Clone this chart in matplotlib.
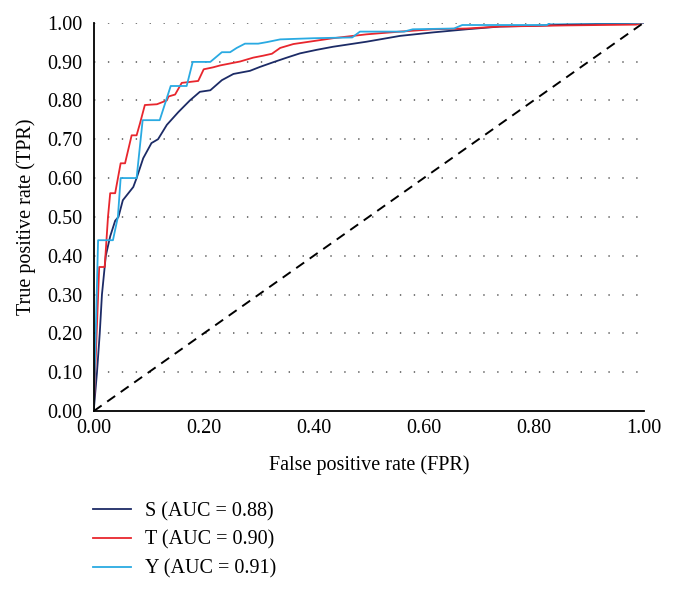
import matplotlib.pyplot as plt
from matplotlib.transforms import Bbox

# ROC points
s_fpr = [0.0, 0.006, 0.011, 0.015, 0.022, 0.030, 0.039, 0.045, 0.053, 0.072, 0.078, 0.090,
         0.105, 0.117, 0.133, 0.154, 0.175, 0.193, 0.212, 0.233, 0.254, 0.284, 0.302, 0.326,
         0.351, 0.375, 0.405, 0.435, 0.496, 0.557, 0.617, 0.678, 0.738, 0.799, 0.860, 0.920, 1.0]
s_tpr = [0.0, 0.10, 0.20, 0.30, 0.40, 0.45, 0.49, 0.50, 0.543, 0.577, 0.60, 0.651,
         0.69, 0.70, 0.737, 0.77, 0.80, 0.822, 0.826, 0.852, 0.868, 0.876, 0.886, 0.898,
         0.91, 0.921, 0.93, 0.938, 0.951, 0.966, 0.975, 0.983, 0.99, 0.992, 0.995, 0.997, 1.0]

t_fpr = [0.0, 0.010, 0.020, 0.026, 0.030, 0.039, 0.049, 0.057, 0.069, 0.078, 0.084, 0.093,
         0.115, 0.133, 0.136, 0.148, 0.160, 0.190, 0.200, 0.217, 0.230, 0.248, 0.266, 0.290,
         0.308, 0.324, 0.339, 0.363, 0.387, 0.411, 0.435, 0.496, 0.557, 0.617, 0.678, 0.738,
         0.860, 0.986, 1.0]
t_tpr = [0.0, 0.371, 0.371, 0.50, 0.561, 0.561, 0.638, 0.638, 0.71, 0.71, 0.74, 0.788,
         0.79, 0.80, 0.81, 0.815, 0.845, 0.85, 0.88, 0.885, 0.89, 0.895, 0.90, 0.91,
         0.915, 0.92, 0.935, 0.945, 0.95, 0.955, 0.96, 0.97, 0.977, 0.983, 0.985, 0.99,
         0.993, 0.995, 1.0]

y_fpr = [0.0, 0.008, 0.035, 0.044, 0.049, 0.078, 0.089, 0.120, 0.140, 0.169, 0.180, 0.212,
         0.233, 0.248, 0.260, 0.275, 0.299, 0.315, 0.339, 0.400, 0.470, 0.484, 0.564, 0.580,
         0.655, 0.670, 0.824, 0.830, 1.0]
y_tpr = [0.0, 0.44, 0.44, 0.50, 0.60, 0.60, 0.749, 0.749, 0.837, 0.837, 0.899, 0.899,
         0.924, 0.924, 0.935, 0.946, 0.946, 0.95, 0.957, 0.96, 0.962, 0.977, 0.977, 0.983,
         0.985, 0.994, 0.994, 1.0, 1.0]

labels = ["S (AUC = 0.88)", "T (AUC = 0.90)", "Y (AUC = 0.91)"]
colors = ["#1c2b66", "#e8262d", "#2aaae2"]
ticks = [0.0, 0.2, 0.4, 0.6, 0.8, 1.0]
yticks = [0.0, 0.1, 0.2, 0.3, 0.4, 0.5, 0.6, 0.7, 0.8, 0.9, 1.0]

plt.rcParams["font.family"] = ["Liberation Serif", "DejaVu Serif"]

fig = plt.figure(figsize=(6.75, 5.89), dpi=100)
ax = fig.add_axes([0.1388, 0.302, 0.815, 0.6595])

for fx, ty, lab, c in zip([s_fpr, t_fpr, y_fpr], [s_tpr, t_tpr, y_tpr], labels, colors):
    ax.plot(fx, ty, color=c, lw=1.3, label=lab)

ax.plot([0, 1], [0, 1], color="black", lw=1.4, linestyle=(0, (5, 3.5)))

ax.set_xlim(0, 1)
ax.set_ylim(0, 1)
ax.set_xticks(ticks)
ax.set_yticks(yticks)
ax.set_xticklabels([f"{t:.2f}" for t in ticks])
ax.set_yticklabels([f"{t:.2f}" for t in yticks])
ax.tick_params(length=0, labelsize=14.5, pad=8)
ax.tick_params(axis="x", pad=6)

# the reference picture is cut just right of the last x label
last = ax.get_xticklabels()[-1]
last.set_clip_box(Bbox.from_extents(0, 0, 661, 589))
last.set_clip_on(True)

for y in yticks[1:]:
    ax.axhline(y, color="#555555", lw=1.1, linestyle=(0, (0.9, 8.2)), zorder=0)

ax.spines["top"].set_visible(False)
ax.spines["right"].set_visible(False)
ax.spines["left"].set_linewidth(1.3)
ax.spines["bottom"].set_linewidth(1.3)

ax.set_xlabel("False positive rate (FPR)", fontsize=14.5, labelpad=12)
ax.set_ylabel("True positive rate (TPR)", fontsize=14.5, labelpad=8)

fig.legend(loc="upper left", bbox_to_anchor=(93 / 675, 1 - 502 / 589), frameon=False,
           fontsize=14.5, handlelength=1.9, handletextpad=0.7, labelspacing=0.47,
           borderpad=0, borderaxespad=0)

fig.savefig("out.png", dpi=100)
